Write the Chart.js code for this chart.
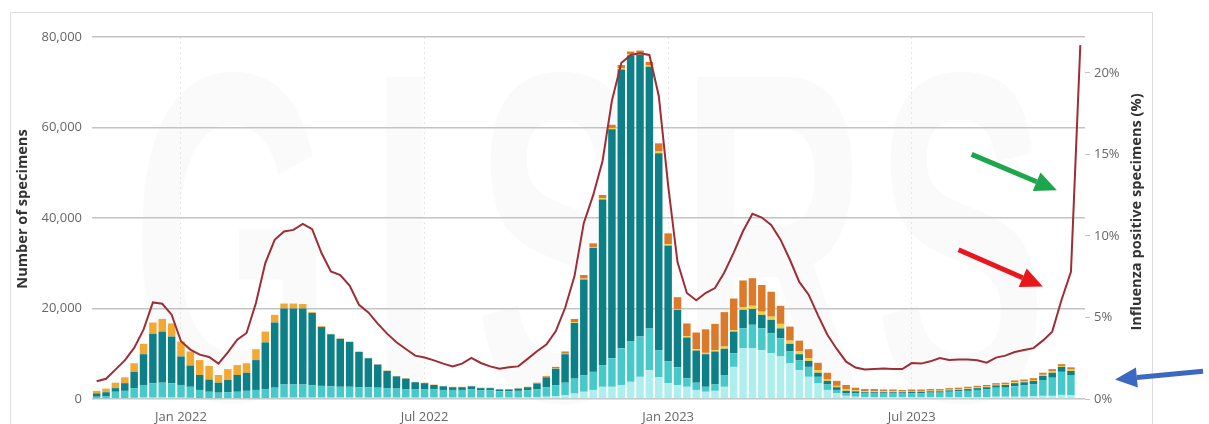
<!DOCTYPE html>
<html>
<head>
<meta charset="utf-8">
<script src="https://cdn.jsdelivr.net/npm/chart.js@4.4.1/dist/chart.umd.min.js"></script>
<style>
  html, body { margin: 0; padding: 0; background: #fff; }
  #wrap { position: relative; width: 1209px; height: 424px; overflow: hidden; }
  #frame { position: absolute; left: 10px; top: 12px; width: 1143px; height: 440px;
           border: 1px solid #dddddd; box-sizing: border-box; }
  #c { position: absolute; left: 0; top: 0; }
</style>
</head>
<body>
<div id="wrap">
  <div id="frame"></div>
  <canvas id="c" width="1209" height="424"></canvas>
</div>
<script>
// Weekly categories: ISO weeks 2021-W44 .. 2023-W45
const weekLabels = [];
for (let i = 0, y = 2021, w = 44; i < 106; i++) {
  weekLabels.push(y + '-W' + String(w).padStart(2, '0'));
  w++;
  if (w > 52) { w = 1; y++; }
}

// Axis labels shown on the time axis
const tickWeeks  = ['2022-W01', '2022-W27', '2023-W01', '2023-W27'];
const tickLabels = ['Jan 2022', 'Jul 2022', 'Jan 2023', 'Jul 2023'];

// Specimens by subtype (number of specimens per week)
const aH1N1 = [
  150,150,200,200,250,300,300,300,300,300, 250,200,200,200,200,200,200,200,200,250,
  300,300,300,300,300,300,300,300,300,300, 300,300,300,300,300,300,300,300,300,300,
  300,300,300,300,300,300,350,400,500,600, 800,1200,1600,2000,2700,2700,3100,3800,4900,6400,
  4800,3500,3100,2700,2000,1600,1800,2700,7100,11200, 11200,10800,10100,9400,7900,6400,4900,3500,2000,1300,
  700,500,400,400,400,400,400,400,400,400, 400,400,400,400,400,400,500,500,500,500,
  600,700,700,900,800,null
];
const aNotSubtyped = [
  350,500,1400,1600,2150,2800,3200,3300,3200,2800, 2450,1800,1400,1200,1300,1400,1600,1800,2000,2250,
  2900,2900,2900,2700,2600,2500,2400,2400,2300,2300, 2200,2100,2000,1900,1900,1900,1800,1700,1700,1700,
  1800,1600,1600,1400,1400,1500,1550,1800,2100,2400, 2800,3300,3600,4000,4800,6300,8100,8900,8900,9200,
  6000,4800,3900,1900,1600,1100,1500,2600,3000,4400, 5200,4800,4400,4000,2600,2200,2200,1400,1200,700,
  600,800,800,800,800,800,800,900,900,1000, 1000,1200,1300,1400,1600,1700,2000,2000,2300,2500,
  2600,3500,4000,5100,4500,null
];
const aH3 = [
  750,850,800,1700,3600,6800,10900,11300,10300,6300, 4700,3300,2700,2200,2700,3700,4000,6600,10300,14400,
  16800,16800,16800,16000,13000,11500,10600,9900,7800,6400, 5100,3800,2700,2300,1500,1300,1000,800,600,600,
  700,500,500,400,400,500,700,1200,2200,3700, 6300,12300,21200,27400,36600,50600,61600,63200,62300,57800,
  43500,25600,12700,9000,7100,7200,7200,5800,4800,4100, 3500,3000,3000,2200,1700,1300,1300,900,800,600,
  500,400,300,300,300,300,300,300,300,300, 300,300,300,400,400,500,500,600,700,700,
  800,900,1100,1100,900,null
];
const bYamagata = [
  0,0,0,0,0,0,0,0,0,0, 0,0,0,0,0,0,0,0,0,0,
  0,0,0,0,0,0,0,0,0,0, 0,0,0,0,0,0,0,0,0,0,
  0,0,0,0,0,0,0,0,100,100, 100,200,200,200,300,300,300,300,300,300,
  400,300,200,300,300,300,300,500,300,600, 700,700,700,1000,700,700,600,600,300,300,
  300,200,200,200,200,200,150,150,150,150, 150,150,150,150,150,150,150,150,200,200,
  200,250,300,200,300,null
];
const bVictoria = [
  0,0,0,0,0,0,0,0,0,0, 0,0,0,0,0,0,0,0,0,0,
  0,0,0,0,0,0,0,0,0,0, 0,0,0,0,0,0,0,0,0,0,
  0,0,0,0,0,0,100,200,200,300, 500,700,800,800,700,700,700,600,600,800,
  1800,2400,2600,2800,3700,5200,5800,7600,7000,5900, 6100,5900,5500,4000,3100,2300,2000,1600,1500,1100,
  1000,600,500,500,400,400,350,350,350,350, 350,350,350,350,350,350,350,350,400,400,
  400,450,500,400,500,null
];
const bNotDetermined = [
  550,800,1200,1300,1900,2300,2500,2800,2900,3300, 3100,3300,3000,1700,2400,2200,2100,2400,2400,1700,
  1100,1100,1000,200,200,100,100,100,100,100, 100,100,100,100,100,100,100,100,100,100,
  100,100,100,100,100,100,0,0,0,0, 0,0,0,0,0,0,0,0,0,0,
  0,0,0,0,0,0,0,0,0,0, 0,0,0,0,0,0,0,0,0,0,
  0,0,0,0,0,0,0,0,0,0, 0,0,0,0,0,0,0,0,0,0,
  0,0,0,0,0,null
];

// Share of specimens testing positive for influenza (%)
const positivePct = [
  1.09,1.24,1.8,2.37,3.13,4.25,5.92,5.84,5.17,3.54, 3.03,2.72,2.58,2.17,2.86,3.64,4.05,5.89,8.34,9.76,
  10.27,10.37,10.74,10.42,8.95,7.82,7.6,6.95,5.78,5.31, 4.62,4.01,3.48,3.07,2.66,2.54,2.37,2.17,2.0,2.17,
  2.52,2.21,2.0,1.85,1.95,2.0,2.46,2.93,3.34,4.15, 5.58,7.52,10.8,12.5,14.6,18.3,20.6,21.1,21.2,21.1,
  18.6,13.1,8.4,6.5,6.05,6.5,6.8,7.76,8.98,10.3, 11.36,11.13,10.68,9.77,8.54,7.18,6.4,5.13,3.94,3.07,
  2.29,1.93,1.81,1.84,1.87,1.84,1.84,2.2,2.17,2.31, 2.51,2.39,2.42,2.42,2.37,2.23,2.54,2.66,2.88,3.0,
  3.12,3.58,4.13,6.09,7.8,21.7
];

// Callout arrows, anchored in data space: [week index, % positive]
const callouts = [
  { from: [93.4, 15.0], to: [102.5, 12.8], color: '#1ea64c' },
  { from: [92.0, 9.15], to: [101.0, 6.9], color: '#e8171c' },
  { from: [118.1, 1.7], to: [108.7, 1.19], color: '#3b69c2' }
];

const FONT = "'Open Sans', 'Noto Sans', sans-serif";
Chart.defaults.font.family = FONT;

function drawArrow(ctx, x1, y1, x2, y2, color) {
  const ang = Math.atan2(y2 - y1, x2 - x1);
  const head = 22, hw = 10;
  const bx = x2 - head * Math.cos(ang), by = y2 - head * Math.sin(ang);
  ctx.strokeStyle = color;
  ctx.lineWidth = 5;
  ctx.beginPath(); ctx.moveTo(x1, y1); ctx.lineTo(bx, by); ctx.stroke();
  ctx.fillStyle = color;
  ctx.beginPath();
  ctx.moveTo(x2, y2);
  ctx.lineTo(bx + hw * Math.sin(ang), by - hw * Math.cos(ang));
  ctx.lineTo(bx - hw * Math.sin(ang), by + hw * Math.cos(ang));
  ctx.closePath(); ctx.fill();
}

const decor = {
  id: 'decor',
  beforeDraw(chart) {
    // faint GISRS watermark behind the plot
    const ctx = chart.ctx;
    ctx.save();
    ctx.fillStyle = 'rgba(0,0,0,0.02)';
    ctx.font = "bold 470px 'Liberation Sans', sans-serif";
    ctx.textAlign = 'center';
    ctx.textBaseline = 'alphabetic';
    [['G', 232], ['I', 405], ['S', 561], ['R', 773], ['S', 961]].forEach(([ch, x]) => {
      ctx.save(); ctx.translate(x, 400); ctx.scale(0.55, 1); ctx.fillText(ch, 0, 0); ctx.restore();
    });
    ctx.restore();
  },
  afterDraw(chart) {
    const ctx = chart.ctx;
    // axis titles (both read bottom-to-top)
    ctx.save();
    ctx.font = "bold 14.6px " + FONT;
    ctx.fillStyle = '#333';
    ctx.textAlign = 'center';
    ctx.textBaseline = 'middle';
    ctx.save(); ctx.translate(23, 209); ctx.rotate(-Math.PI / 2);
    ctx.fillText('Number of specimens', 0, 0); ctx.restore();
    ctx.save(); ctx.translate(1137, 212); ctx.rotate(-Math.PI / 2);
    ctx.fillText('Influenza positive specimens (%)', 0, 0); ctx.restore();
    ctx.restore();
    // callout arrows
    const xs = chart.scales.x, ys = chart.scales.y1;
    ctx.save();
    callouts.forEach(a => {
      drawArrow(ctx,
        xs.getPixelForValue(a.from[0]), ys.getPixelForValue(a.from[1]),
        xs.getPixelForValue(a.to[0]), ys.getPixelForValue(a.to[1]), a.color);
    });
    ctx.restore();
  }
};

const barDefaults = { type: 'bar', yAxisID: 'y', stack: 'flu', order: 1,
  barPercentage: 0.8, categoryPercentage: 1.0, borderWidth: 0 };

new Chart(document.getElementById('c'), {
  data: {
    labels: weekLabels,
    datasets: [
      { type: 'line', label: 'Influenza positive (%)', data: positivePct, yAxisID: 'y1', order: 0,
        borderColor: '#9e2d35', borderWidth: 2, pointRadius: 0, tension: 0, fill: false },
      { ...barDefaults, label: 'A(H1N1)pdm09', data: aH1N1, backgroundColor: '#aeeeed' },
      { ...barDefaults, label: 'A not subtyped', data: aNotSubtyped, backgroundColor: '#47c9ca' },
      { ...barDefaults, label: 'A(H3)', data: aH3, backgroundColor: '#0d8087' },
      { ...barDefaults, label: 'B Yamagata', data: bYamagata, backgroundColor: '#f2cf45' },
      { ...barDefaults, label: 'B Victoria', data: bVictoria, backgroundColor: '#dc7a2b' },
      { ...barDefaults, label: 'B lineage not determined', data: bNotDetermined, backgroundColor: '#f2a933' }
    ]
  },
  options: {
    responsive: false,
    animation: false,
    layout: { padding: { top: 37, left: 0, right: 0, bottom: 0 } },
    plugins: { legend: { display: false }, tooltip: { enabled: false } },
    scales: {
      x: {
        stacked: true,
        offset: true,
        afterFit: s => { s.height = 25; },
        grid: { offset: false, drawTicks: false, color: '#e6e6e6', lineWidth: 1 },
        border: { display: false, dash: [2, 3] },
        ticks: {
          autoSkip: false, maxRotation: 0, minRotation: 0, padding: 10,
          color: '#666', font: { size: 13 },
          callback: (v) => {
            const k = tickWeeks.indexOf(weekLabels[v]);
            return k >= 0 ? tickLabels[k] : null;
          }
        }
      },
      y: {
        stacked: true,
        position: 'left',
        min: 0, max: 80000,
        afterFit: s => { s.width = 92; },
        grid: { color: '#c4c4c4', lineWidth: 1.5, drawTicks: false },
        border: { display: false },
        ticks: { stepSize: 20000, padding: 10, color: '#666', font: { size: 13 },
                 callback: v => v.toLocaleString('en-US') }
      },
      y1: {
        position: 'right',
        min: 0, max: 22.2,
        afterFit: s => { s.width = 124; },
        grid: { drawOnChartArea: false, drawTicks: true, tickLength: 5, color: '#c4c4c4' },
        border: { display: false },
        ticks: { stepSize: 5, includeBounds: false, padding: 4, color: '#666', font: { size: 13 },
                 callback: v => v + '%' }
      }
    }
  },
  plugins: [decor]
});
</script>
</body>
</html>
